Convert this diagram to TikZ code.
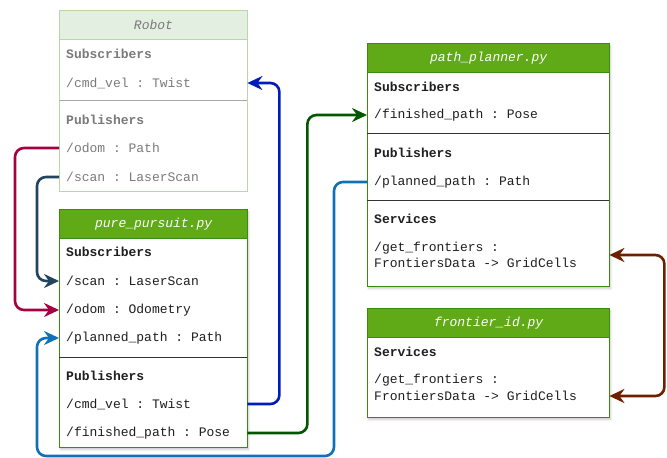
\documentclass[tikz,border=0pt]{standalone}
\usepackage{fontspec}
\setmainfont{Liberation Mono}[WordSpace={1,0,0}, Kerning=Off]
\usetikzlibrary{arrows.meta,shadows.blur}

% fixed one-cell gap for the monospaced rows
\newcommand\mspc{\hbox to 0.6em{}}

\definecolor{nodegreen}{HTML}{60A917}
\definecolor{nodeline}{HTML}{3A8A14}
\definecolor{robofill}{HTML}{E3EFE1}
\definecolor{roboline}{HTML}{B8D8A8}
\definecolor{robotext}{HTML}{7A7A7A}
\definecolor{robodiv}{HTML}{A8A8A8}
\definecolor{cred}{HTML}{A50040}
\definecolor{cnavy}{HTML}{23445D}
\definecolor{cblue}{HTML}{001DBC}
\definecolor{cgreen}{HTML}{005700}
\definecolor{csky}{HTML}{1071B7}
\definecolor{cbrown}{HTML}{6D1F00}

\tikzset{
  box/.style={draw=nodeline, line width=1.3pt, fill=white, anchor=north west, inner sep=0pt,
    blur shadow={shadow xshift=1pt, shadow yshift=-2pt, shadow blur steps=6, shadow opacity=22}},
  head/.style={draw=nodeline, line width=1.3pt, fill=nodegreen, anchor=north west, inner sep=0pt,
    minimum height=29pt},
  robobox/.style={draw=roboline, line width=1pt, fill=white, anchor=north west, inner sep=0pt},
  robohead/.style={draw=roboline, line width=1pt, fill=robofill, anchor=north west, inner sep=0pt,
    minimum height=29pt},
  title/.style={font=\fontsize{13}{15.6}\selectfont\itshape, text=white},
  robotitle/.style={font=\fontsize{13}{15.6}\selectfont\itshape, text=robotext},
  row/.style={anchor=west, inner xsep=7pt, inner ysep=0pt, align=left,
    font=\fontsize{13}{16}\selectfont, text=black!88},
  sect/.style={row, font=\fontsize{13}{16}\selectfont\bfseries},
  narrow/.style={text width=174pt},
  wide/.style={text width=228pt},
  divider/.style={line width=1pt, draw=black!80},
  link/.style={line width=2.6pt, rounded corners=9pt, -{Stealth[length=15pt, width=14pt, inset=5pt]}},
  twoway/.style={line width=2.6pt, rounded corners=9pt,
    {Stealth[length=15pt, width=14pt, inset=5pt]}-{Stealth[length=15pt, width=14pt, inset=5pt]}},
}

\begin{document}
\begin{tikzpicture}[x=1pt, y=-1pt]
\useasboundingbox (0,0) rectangle (667,458);

% ---------- Robot ----------
\node[robobox, minimum width=188pt, minimum height=181pt] (robot) at (59,10) {};
\node[robohead, minimum width=188pt] (robot-h) at (59,10) {};
\node[robotitle] at (robot-h.center) {Robot};
\node[sect, narrow, text=robotext] (ro-sub) at (59,54) {Subscribers};
\node[row, narrow, text=robotext] (ro-cmd) at (59,83) {/cmd\_vel\mspc:\mspc Twist};
\draw[line width=1pt, robodiv] (59,100) -- (247,100);
\node[sect, narrow, text=robotext] (ro-pub) at (59,120) {Publishers};
\node[row, narrow, text=robotext] (ro-odom) at (59,148) {/odom\mspc:\mspc Path};
\node[row, narrow, text=robotext] (ro-scan) at (59,177) {/scan\mspc:\mspc LaserScan};

% ---------- pure_pursuit.py ----------
\node[box, minimum width=188pt, minimum height=238pt] (pp) at (59,209) {};
\node[head, minimum width=188pt] (pp-h) at (59,209) {};
\node[title] at (pp-h.center) {pure\_pursuit.py};
\node[sect, narrow] (pp-sub) at (59,252) {Subscribers};
\node[row, narrow] (pp-scan) at (59,281) {/scan\mspc:\mspc LaserScan};
\node[row, narrow] (pp-odom) at (59,310) {/odom\mspc:\mspc Odometry};
\node[row, narrow] (pp-plan) at (59,338) {/planned\_path\mspc:\mspc Path};
\draw[divider] (59,357) -- (247,357);
\node[sect, narrow] (pp-pub) at (59,376) {Publishers};
\node[row, narrow] (pp-cmd) at (59,404) {/cmd\_vel\mspc:\mspc Twist};
\node[row, narrow] (pp-fin) at (59,433) {/finished\_path\mspc:\mspc Pose};

% ---------- path_planner.py ----------
\node[box, minimum width=242pt, minimum height=243pt] (pl) at (367,43) {};
\node[head, minimum width=242pt] (pl-h) at (367,43) {};
\node[title] at (pl-h.center) {path\_planner.py};
\node[sect, wide] (pl-sub) at (367,87) {Subscribers};
\node[row, wide] (pl-fin) at (367,115) {/finished\_path\mspc:\mspc Pose};
\draw[divider] (367,133) -- (609,133);
\node[sect, wide] (pl-pub) at (367,153) {Publishers};
\node[row, wide] (pl-plan) at (367,182) {/planned\_path\mspc:\mspc Path};
\draw[divider] (367,200) -- (609,200);
\node[sect, wide] (pl-srv) at (367,219) {Services};
\node[row, wide] (pl-get) at (367,255) {/get\_frontiers\mspc:\\FrontiersData\mspc->\mspc GridCells};

% ---------- frontier_id.py ----------
\node[box, minimum width=242pt, minimum height=109pt] (fr) at (367,308) {};
\node[head, minimum width=242pt] (fr-h) at (367,308) {};
\node[title] at (fr-h.center) {frontier\_id.py};
\node[sect, wide] (fr-srv) at (367,352) {Services};
\node[row, wide] (fr-get1) at (367,380) {/get\_frontiers\mspc:};
\node[row, wide] (fr-get2) at (367,396) {FrontiersData\mspc->\mspc GridCells};

% ---------- topic connections ----------
\coordinate (sky-a) at (334,456);
\coordinate (sky-b) at (37,456);

\draw[link, cred]   (ro-odom.west) -- ++(-44,0) |- (pp-odom.west);
\draw[link, cnavy]  (ro-scan.west) -- ++(-22,0) |- (pp-scan.west);
\draw[link, cblue]  (pp-cmd.east) -- ++(32,0) |- (ro-cmd.east);
\draw[link, cgreen] (pp-fin.east) -- ++(60,0) |- (pl-fin.west);
\draw[link, csky]   (pl-plan.west) -| (sky-a) -- (sky-b) |- (pp-plan.west);
\draw[twoway, cbrown] (pl-get.east) -- ++(55,0) |- (fr-get2.east);
\end{tikzpicture}
\end{document}
